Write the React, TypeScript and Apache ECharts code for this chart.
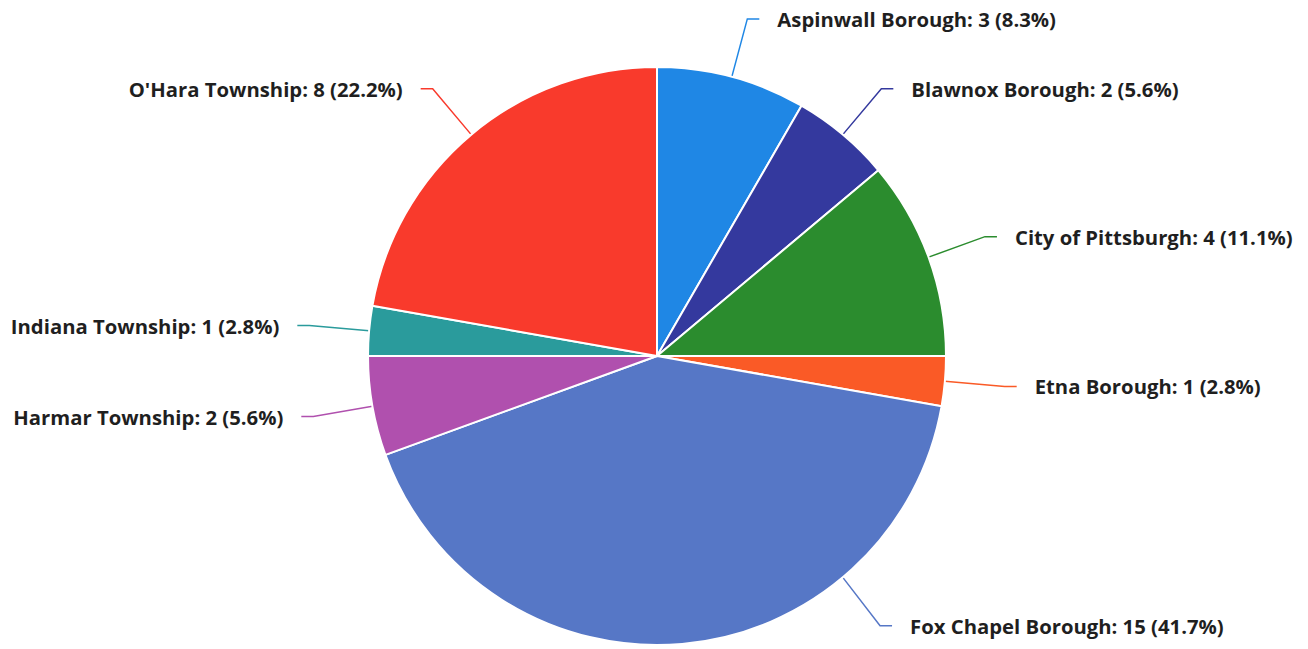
import React, { useEffect, useRef } from "react";
import * as echarts from "echarts";

const categories = [
  "Aspinwall Borough",
  "Blawnox Borough",
  "City of Pittsburgh",
  "Etna Borough",
  "Fox Chapel Borough",
  "Harmar Township",
  "Indiana Township",
  "O'Hara Township",
];
const counts = [3, 2, 4, 1, 15, 2, 1, 8];
const colors = [
  "#1F87E5",
  "#34399E",
  "#2B8C2E",
  "#FA5A26",
  "#5677C6",
  "#B050AE",
  "#2A9B9C",
  "#F93A2C",
];

const CX = 657;
const CY = 356;
const R = 289;

export default function App() {
  const ref = useRef<HTMLDivElement>(null);
  useEffect(() => {
    if (!ref.current) return;
    const chart = echarts.init(ref.current, undefined, { renderer: "svg" });
    const total = counts.reduce((a, b) => a + b, 0);
    chart.setOption({
      animation: false,
      backgroundColor: "#ffffff",
      series: [
        {
          type: "pie",
          center: [CX, CY],
          radius: [0, R],
          startAngle: 90,
          clockwise: true,
          avoidLabelOverlap: false,
          itemStyle: { borderColor: "#ffffff", borderWidth: 2 },
          label: {
            show: true,
            fontFamily: "Open Sans",
            fontWeight: "bold",
            fontSize: 20.3,
            color: "#1f1f1f",
            distanceToLabelLine: 18,
            formatter: (p: any) =>
              `${p.name}: ${p.value} (${((p.value / total) * 100).toFixed(1)}%)`,
          },
          labelLine: {
            show: true,
            length: 60,
            length2: 12,
            lineStyle: { width: 1.5 },
          },
          labelLayout: (params: any) => {
            if (params.dataIndex !== 4) return {};
            const a = (140 * Math.PI) / 180;
            const ex = CX + R * Math.sin(a);
            const ey = CY - R * Math.cos(a);
            const mx = CX + (R + 58) * Math.sin(a);
            const my = CY - (R + 58) * Math.cos(a);
            const hx = mx + 12;
            return {
              x: hx + 18,
              y: my + 4,
              labelLinePoints: [
                [ex, ey],
                [mx, my + 4],
                [hx, my + 4],
              ],
            };
          },
          data: categories.map((name, i) => ({
            name,
            value: counts[i],
            itemStyle: { color: colors[i] },
            labelLine: { lineStyle: { color: colors[i] } },
          })),
        },
      ],
    });
    return () => chart.dispose();
  }, []);
  return (
    <div
      ref={ref}
      style={{ position: "fixed", left: 0, top: 0, width: 1308, height: 649 }}
    />
  );
}
